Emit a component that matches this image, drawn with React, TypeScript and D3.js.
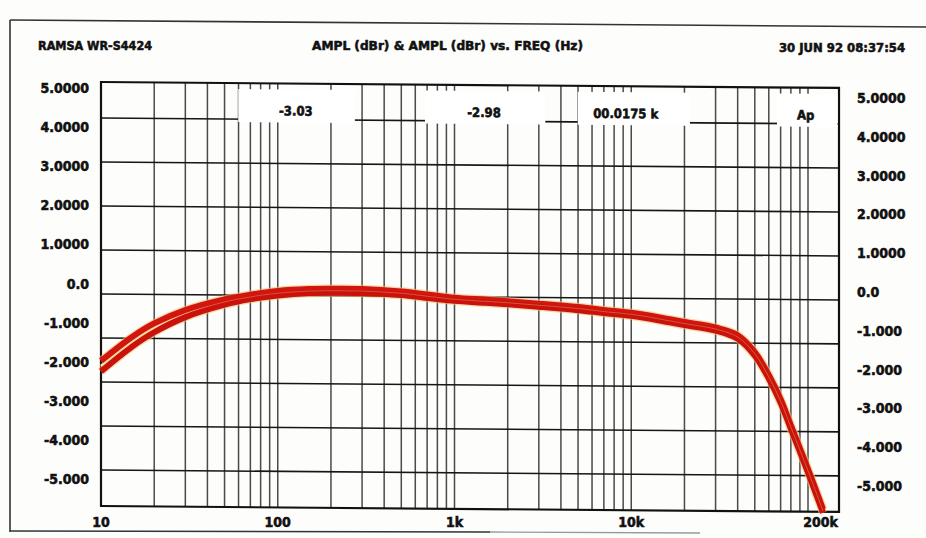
import React from "react";
import * as d3 from "d3";

// ---------- data ----------
const freqs = [10, 15, 20, 30, 50, 70, 100, 150, 200, 300, 500, 700, 1000, 1500, 2000, 3000, 5000, 7000, 10000, 15000, 20000, 30000, 40000, 50000, 60000, 70000, 80000, 90000, 100000, 140000];
const chA = [-1.52, -0.97, -0.66, -0.35, -0.10, 0.01, 0.10, 0.15, 0.16, 0.16, 0.11, 0.05, -0.02, -0.06, -0.09, -0.14, -0.21, -0.27, -0.33, -0.44, -0.53, -0.65, -0.82, -1.20, -1.72, -2.27, -2.86, -3.38, -3.85, -4.76];
const chB = [-1.76, -1.19, -0.86, -0.51, -0.22, -0.09, 0.0, 0.06, 0.07, 0.07, 0.03, -0.03, -0.09, -0.13, -0.16, -0.21, -0.28, -0.34, -0.40, -0.51, -0.60, -0.72, -0.90, -1.28, -1.80, -2.35, -2.94, -3.46, -3.93, -4.84];

const xDomain = [10, 200000];
const yGridValues = [-4, -3, -2, -1, 0, 1, 2, 3, 4];
const yTickLabelsLeft = ["5.0000", "4.0000", "3.0000", "2.0000", "1.0000", "0.0", "-1.000", "-2.000", "-3.000", "-4.000", "-5.000"];
const yTickLabelsRight = ["5.0000", "4.0000", "3.0000", "2.0000", "1.0000", "0.0", "-1.000", "-2.000", "-3.000", "-4.000", "-5.000"];
const yTickValues = [5, 4, 3, 2, 1, 0, -1, -2, -3, -4, -5];
const xTickValues = [10, 100, 1000, 10000, 200000];
const xTickLabels = ["10", "100", "1k", "10k", "200k"];
const readouts = ["-3.03", "-2.98", "00.0175 k", "Ap"];
const headerLeft = "RAMSA WR-S4424";
const headerTitle = "AMPL (dBr) & AMPL (dBr) vs. FREQ (Hz)";
const headerDate = "30 JUN 92 08:37:54";

// ---------- layout ----------
const W = 926;
const H = 538;
const plot = { left: 101, right: 839, top: 82, bottom: 506 };
const yExtent = 4.82;
const skewDeg = 0.46;
const FONT = "'DejaVu Sans Condensed', 'DejaVu Sans', sans-serif";
// readout boxes as fractions of plot width: [start, end, textCenter]
const readoutBoxes = [
  [0.186, 0.344, 0.264],
  [0.439, 0.602, 0.519],
  [0.646, 0.798, 0.711],
  [0.916, 1.0, 0.955],
];

export default function App() {
  const x = d3
    .scaleLog()
    .domain([xDomain[0], 100000, xDomain[1]])
    .range([plot.left, 808, plot.right]);
  const y = d3.scaleLinear().domain([-yExtent, yExtent]).range([plot.bottom, plot.top]);
  const yLabL = d3.scaleLinear().domain([-5, 5]).range([479, 88]);
  const yLabR = d3.scaleLinear().domain([-5, 5]).range([486, 98]);

  const vLines: number[] = [];
  [10, 100, 1000, 10000].forEach((dec) => {
    for (let k = 1; k <= 9; k++) {
      const f = dec * k;
      if (f > xDomain[0]) vLines.push(f);
    }
  });
  vLines.push(100000);

  const line = d3
    .line<number>()
    .x((_, i) => x(freqs[i]))
    .y((v) => y(v))
    .curve(d3.curveCatmullRom.alpha(0.5));
  const mid = chA.map((v, i) => (v + chB[i]) / 2);

  const skew = `translate(${plot.left},${plot.top}) skewY(${skewDeg}) translate(${-plot.left},${-plot.top})`;
  const pw = plot.right - plot.left;
  const textStyle = { stroke: "#111", strokeWidth: 0.55 } as const;

  return (
    <svg width={W} height={H} viewBox={`0 0 ${W} ${H}`} style={{ position: "absolute", left: 0, top: 0, background: "#fff" }}>
      <rect x={0} y={0} width={W} height={H} fill="#fdfdfb" />
      {/* paper frame */}
      <line x1={10} y1={20} x2={926} y2={27} stroke="#333" strokeWidth={1.6} />
      <line x1={10} y1={20} x2={10} y2={532} stroke="#333" strokeWidth={1.6} />
      <line x1={10} y1={531} x2={490} y2={532} stroke="#333" strokeWidth={1.6} />
      <line x1={490} y1={532} x2={700} y2={533} stroke="#999" strokeWidth={1.4} />

      {/* header */}
      <g fontFamily={FONT} fontWeight="bold" fontSize={13} fill="#111" style={textStyle}>
        <text x={38} y={50} textLength={114} lengthAdjust="spacingAndGlyphs">{headerLeft}</text>
        <text x={312} y={50} textLength={271} lengthAdjust="spacingAndGlyphs">{headerTitle}</text>
        <text x={779} y={52} textLength={126} lengthAdjust="spacingAndGlyphs">{headerDate}</text>
      </g>

      <g transform={skew}>
        {/* grid */}
        {vLines.map((f) => (
          <line key={"v" + f} x1={x(f)} x2={x(f)} y1={plot.top} y2={plot.bottom} stroke="#2a2a2a" strokeOpacity={0.85} strokeWidth={1.5} />
        ))}
        {yGridValues.map((v) => (
          <line key={"h" + v} x1={plot.left} x2={plot.right} y1={y(v)} y2={y(v)} stroke="#161616" strokeWidth={1.6} />
        ))}
        <rect x={plot.left} y={plot.top} width={pw} height={plot.bottom - plot.top} fill="none" stroke="#111" strokeWidth={2.2} />

        {/* readout boxes */}
        {readouts.map((r, i) => (
          <g key={"r" + i}>
            <rect x={plot.left + readoutBoxes[i][0] * pw} y={88} width={(readoutBoxes[i][1] - readoutBoxes[i][0]) * pw - (i === 3 ? 1.5 : 0)} height={33} fill="#fff" />
            <text x={plot.left + readoutBoxes[i][2] * pw} y={114} textAnchor="middle" fontFamily={FONT} fontWeight="bold" fontSize={13} fill="#111" style={textStyle}>{r}</text>
          </g>
        ))}

        {/* traces */}
        <path d={line(chA) || ""} fill="none" stroke="#f4c070" strokeOpacity={0.6} strokeWidth={8.5} />
        <path d={line(chB) || ""} fill="none" stroke="#f4c070" strokeOpacity={0.6} strokeWidth={8.5} />
        <path d={line(mid) || ""} fill="none" stroke="#fbe6a6" strokeWidth={3} />
        <path d={line(chA) || ""} fill="none" stroke="#d3150f" strokeWidth={6} strokeLinejoin="round" />
        <path d={line(chB) || ""} fill="none" stroke="#c9120d" strokeWidth={6} strokeLinejoin="round" />
        <path d={line(mid) || ""} fill="none" stroke="#f7c97a" strokeOpacity={0.35} strokeWidth={1} />
      </g>

      {/* y labels */}
      <g fontFamily={FONT} fontWeight="bold" fontSize={14} fill="#111" style={textStyle}>
        {yTickValues.map((v, i) => (
          <text key={"yl" + i} x={89} y={yLabL(v)} dy="0.36em" textAnchor="end">{yTickLabelsLeft[i]}</text>
        ))}
        {yTickValues.map((v, i) => (
          <text key={"yr" + i} x={857} y={yLabR(v)} dy="0.36em" textAnchor="start">{yTickLabelsRight[i]}</text>
        ))}
        {xTickValues.map((f, i) => (
          <text key={"x" + i} x={i === xTickValues.length - 1 ? x(f) - 1 : x(f)} y={527} textAnchor={i === xTickValues.length - 1 ? "end" : "middle"}>{xTickLabels[i]}</text>
        ))}
      </g>
    </svg>
  );
}
